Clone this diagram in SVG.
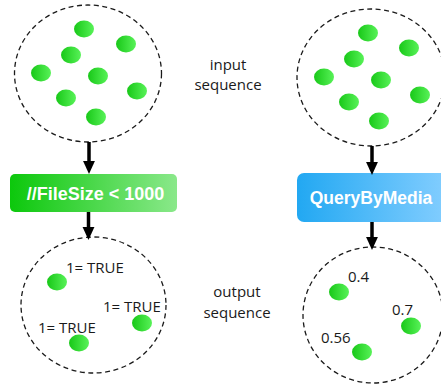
<svg xmlns="http://www.w3.org/2000/svg" width="441" height="386" viewBox="0 0 441 386">
<style>
.set{fill:none;stroke:#1a1a1a;stroke-width:1.3;stroke-dasharray:5 3.5}
.dot{fill:url(#gDot)}
.lbl{font-family:"Open Sans","Liberation Sans",Arial,sans-serif;font-size:15px;fill:#1a1a1a}
.box-t{font-family:"Liberation Sans",Arial,sans-serif;font-weight:bold;font-size:18px;fill:#ffffff;text-anchor:middle}
.side{font-family:"Open Sans","Liberation Sans",Arial,sans-serif;font-size:15px;fill:#1a1a1a;text-anchor:middle}
.conn{stroke:#000;stroke-width:3.5;fill:none;marker-end:url(#arr)}
</style>
<defs>
<linearGradient id="gDot" x1="0" y1="0" x2="1" y2="0">
<stop offset="0" stop-color="#18c818"/>
<stop offset="1" stop-color="#58f258"/>
</linearGradient>
<linearGradient id="gGreen" x1="0" y1="0" x2="1" y2="0">
<stop offset="0" stop-color="#0cc80c"/>
<stop offset="1" stop-color="#8ae88a"/>
</linearGradient>
<linearGradient id="gBlue" x1="0" y1="0" x2="1" y2="0">
<stop offset="0" stop-color="#22a8f2"/>
<stop offset="1" stop-color="#84ceff"/>
</linearGradient>
<marker id="arr" markerUnits="userSpaceOnUse" markerWidth="14" markerHeight="14" refX="0" refY="6" orient="auto" viewBox="0 0 13 12">
<path d="M0,0.5 L12,6 L0,11.5 Z" fill="#000"/>
</marker>
</defs>

<g id="input-left">
<ellipse class="set" cx="88" cy="73.5" rx="73.5" ry="68.5"/>
<ellipse class="dot" cx="84" cy="29" rx="10" ry="8.5"/>
<ellipse class="dot" cx="126" cy="44" rx="10" ry="8.5"/>
<ellipse class="dot" cx="71" cy="55" rx="10" ry="8.5"/>
<ellipse class="dot" cx="41" cy="73" rx="10" ry="8.5"/>
<ellipse class="dot" cx="98" cy="76" rx="10" ry="8.5"/>
<ellipse class="dot" cx="137" cy="91" rx="10" ry="8.5"/>
<ellipse class="dot" cx="66" cy="98" rx="10" ry="8.5"/>
<ellipse class="dot" cx="96" cy="117" rx="10" ry="8.5"/>
</g>

<g id="input-right">
<ellipse class="set" cx="371" cy="77.5" rx="74" ry="68.5"/>
<ellipse class="dot" cx="368" cy="33" rx="10" ry="8.5"/>
<ellipse class="dot" cx="409" cy="48" rx="10" ry="8.5"/>
<ellipse class="dot" cx="354" cy="59" rx="10" ry="8.5"/>
<ellipse class="dot" cx="324" cy="77" rx="10" ry="8.5"/>
<ellipse class="dot" cx="381" cy="80" rx="10" ry="8.5"/>
<ellipse class="dot" cx="420" cy="95" rx="10" ry="8.5"/>
<ellipse class="dot" cx="349" cy="102" rx="10" ry="8.5"/>
<ellipse class="dot" cx="379" cy="121" rx="10" ry="8.5"/>
</g>

<g id="label-input">
<text class="side" x="228" y="70">input</text>
<text class="side" x="228" y="90">sequence</text>
</g>

<g id="filter-box">
<rect x="10" y="174" width="167" height="38" rx="5" fill="url(#gGreen)"/>
<text class="box-t" x="95.5" y="200">//FileSize &lt; 1000</text>
</g>

<g id="query-box">
<rect x="297" y="173" width="152" height="49" rx="7" fill="url(#gBlue)"/>
<text class="box-t" x="371" y="204" style="font-size:17.5px">QueryByMedia</text>
</g>

<g id="output-left">
<ellipse class="set" cx="93.5" cy="305" rx="72.5" ry="68"/>
<ellipse class="dot" cx="57" cy="282" rx="10" ry="8.5"/>
<ellipse class="dot" cx="142" cy="323" rx="10" ry="8.5"/>
<ellipse class="dot" cx="79" cy="343" rx="10" ry="8.5"/>
<text class="lbl" x="66" y="273">1= TRUE</text>
<text class="lbl" x="103" y="312">1= TRUE</text>
<text class="lbl" x="38" y="333">1= TRUE</text>
</g>

<g id="output-right">
<ellipse class="set" cx="373" cy="315" rx="70" ry="68"/>
<ellipse class="dot" cx="339" cy="292" rx="10" ry="8.5"/>
<ellipse class="dot" cx="411" cy="326" rx="10" ry="8.5"/>
<ellipse class="dot" cx="362" cy="352" rx="10" ry="8.5"/>
<text class="lbl" x="348" y="282">0.4</text>
<text class="lbl" x="392" y="315">0.7</text>
<text class="lbl" x="321" y="343">0.56</text>
</g>

<g id="label-output">
<text class="side" x="237" y="297">output</text>
<text class="side" x="237" y="318">sequence</text>
</g>

<g id="connectors">
<line class="conn" x1="89" y1="142" x2="89" y2="161"/>
<line class="conn" x1="88.5" y1="212" x2="88.5" y2="227"/>
<line class="conn" x1="372" y1="146" x2="372" y2="162"/>
<line class="conn" x1="372" y1="222" x2="372" y2="237"/>
</g>
</svg>
